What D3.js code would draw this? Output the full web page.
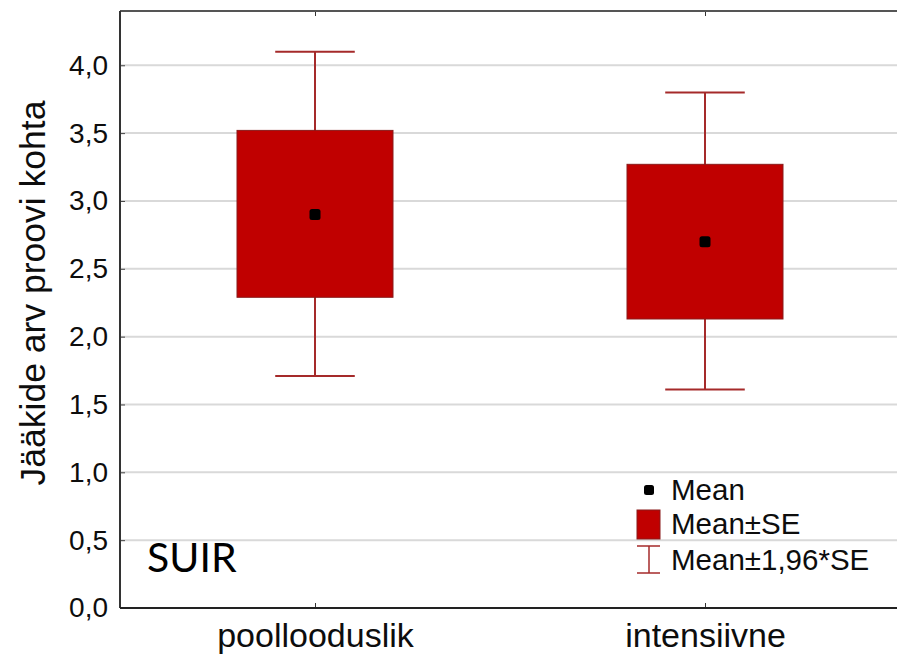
<!DOCTYPE html>
<html>
<head>
<meta charset="utf-8">
<script src="https://cdn.jsdelivr.net/npm/d3@7"></script>
<style>
  html, body { margin: 0; padding: 0; background: #fff; }
  svg { display: block; font-family: "Liberation Sans", Arial, sans-serif; }
</style>
</head>
<body>
<svg id="chart" width="897" height="655"></svg>
<script>
// Categories and per-group statistics
const categories = ["poollooduslik", "intensiivne"];
const means      = [2.90, 2.70];
const seLower    = [2.29, 2.13];
const seUpper    = [3.52, 3.27];
const ciLower    = [1.71, 1.61];
const ciUpper    = [4.10, 3.80];
const yTicks     = [0, 0.5, 1.0, 1.5, 2.0, 2.5, 3.0, 3.5, 4.0];
const legendLabels = ["Mean", "Mean±SE", "Mean±1,96*SE"];
const yTitle = "Jääkide arv proovi kohta";
const panelLabel = "SUIR";

const boxFill = "#c00000";
const boxStroke = "#8a1a1a";
const whiskerColor = "#a52a2a";
const textColor = "#0d0d0d";

const svg = d3.select("#chart");
const plotLeft = 120, plotRight = 900, plotTop = 11, plotBottom = 608;

const x = d3.scalePoint().domain(categories).range([plotLeft, plotRight]).padding(0.5);
const y = d3.scaleLinear().domain([0, 4.4]).range([plotBottom, plotTop]);
const step = x.step();
const boxW = step * 0.4;
const capW = boxW * 0.51;

// horizontal grid
svg.append("g")
  .selectAll("line")
  .data(yTicks.filter(d => d > 0))
  .join("line")
  .attr("x1", plotLeft).attr("x2", plotRight)
  .attr("y1", d => y(d)).attr("y2", d => y(d))
  .attr("stroke", "#d9d9d9").attr("stroke-width", 2);

const fmt = d => d3.format(".1f")(d).replace(".", ",");

// left axis with inward ticks
const yAxis = svg.append("g")
  .attr("transform", `translate(${plotLeft},0)`)
  .call(d3.axisLeft(y).tickValues(yTicks).tickFormat(fmt).tickSizeInner(-5).tickSizeOuter(0).tickPadding(12));
yAxis.select(".domain").remove();
yAxis.selectAll(".tick line").attr("stroke", "#444").attr("stroke-width", 1);
yAxis.selectAll(".tick text").attr("font-size", 28).attr("fill", textColor)
  .attr("font-family", "Liberation Sans, Arial, sans-serif");

// bottom axis
const xAxis = svg.append("g")
  .attr("transform", `translate(0,${plotBottom})`)
  .call(d3.axisBottom(x).tickSizeInner(-5).tickSizeOuter(0).tickPadding(15));
xAxis.select(".domain").remove();
xAxis.selectAll(".tick line").attr("stroke", "#333");
xAxis.selectAll(".tick text").attr("font-size", 34).attr("fill", textColor)
  .attr("font-family", "Liberation Sans, Arial, sans-serif");

// top axis ticks
const tAxis = svg.append("g")
  .attr("transform", `translate(0,${plotTop})`)
  .call(d3.axisTop(x).tickSizeInner(-5).tickSizeOuter(0).tickFormat(""));
tAxis.select(".domain").remove();
tAxis.selectAll(".tick line").attr("stroke", "#333");

// frame lines
svg.append("line").attr("x1", plotLeft).attr("x2", plotRight).attr("y1", plotTop).attr("y2", plotTop)
  .attr("stroke", "#555").attr("stroke-width", 2);
svg.append("line").attr("x1", plotLeft).attr("x2", plotLeft).attr("y1", plotTop).attr("y2", plotBottom)
  .attr("stroke", "#333").attr("stroke-width", 2);
svg.append("line").attr("x1", plotLeft).attr("x2", plotRight).attr("y1", plotBottom).attr("y2", plotBottom)
  .attr("stroke", "#222").attr("stroke-width", 2);

// groups
const groups = categories.map((c, i) => ({
  c, mean: means[i], lo: seLower[i], hi: seUpper[i], cl: ciLower[i], ch: ciUpper[i]
}));

const g = svg.append("g").selectAll("g").data(groups).join("g");

// whiskers
g.append("line")
  .attr("x1", d => x(d.c)).attr("x2", d => x(d.c))
  .attr("y1", d => y(d.ch)).attr("y2", d => y(d.cl))
  .attr("stroke", whiskerColor).attr("stroke-width", 2);
g.append("line")
  .attr("x1", d => x(d.c) - capW / 2).attr("x2", d => x(d.c) + capW / 2)
  .attr("y1", d => y(d.ch)).attr("y2", d => y(d.ch))
  .attr("stroke", whiskerColor).attr("stroke-width", 2);
g.append("line")
  .attr("x1", d => x(d.c) - capW / 2).attr("x2", d => x(d.c) + capW / 2)
  .attr("y1", d => y(d.cl)).attr("y2", d => y(d.cl))
  .attr("stroke", whiskerColor).attr("stroke-width", 2);

// SE boxes
g.append("rect")
  .attr("x", d => x(d.c) - boxW / 2)
  .attr("width", boxW)
  .attr("y", d => y(d.hi))
  .attr("height", d => y(d.lo) - y(d.hi))
  .attr("fill", boxFill).attr("stroke", boxStroke).attr("stroke-width", 1);

// means
g.append("rect")
  .attr("x", d => x(d.c) - 5.5).attr("y", d => y(d.mean) - 5.5)
  .attr("width", 11).attr("height", 11).attr("rx", 2.5)
  .attr("fill", "#000");

// y title
svg.append("text")
  .attr("transform", `translate(45,293) rotate(-90)`)
  .attr("text-anchor", "middle")
  .attr("font-size", 35.5).attr("fill", textColor)
  .text(yTitle);

// panel label
svg.append("text")
  .attr("x", 147).attr("y", 572)
  .attr("font-family", "Lato, 'Open Sans', sans-serif")
  .attr("font-size", 41).attr("fill", "#000")
  .text(panelLabel);

// legend
const lg = svg.append("g");
const lx = 649, ly = [490, 524, 560];
lg.append("rect").attr("x", lx - 5).attr("y", ly[0] - 5).attr("width", 10).attr("height", 10)
  .attr("rx", 2.5).attr("fill", "#000");
lg.append("rect").attr("x", lx - 12).attr("y", ly[1] - 14).attr("width", 23).attr("height", 29)
  .attr("fill", boxFill).attr("stroke", boxStroke).attr("stroke-width", 1);
lg.append("line").attr("x1", lx).attr("x2", lx).attr("y1", ly[2] - 14).attr("y2", ly[2] + 13)
  .attr("stroke", whiskerColor).attr("stroke-width", 1.5);
lg.append("line").attr("x1", lx - 12).attr("x2", lx + 11).attr("y1", ly[2] - 14).attr("y2", ly[2] - 14)
  .attr("stroke", whiskerColor).attr("stroke-width", 1.5);
lg.append("line").attr("x1", lx - 12).attr("x2", lx + 11).attr("y1", ly[2] + 13).attr("y2", ly[2] + 13)
  .attr("stroke", whiskerColor).attr("stroke-width", 1.5);
lg.selectAll("text.lbl").data(legendLabels).join("text")
  .attr("class", "lbl")
  .attr("x", 671).attr("y", (d, i) => ly[i] + 10)
  .attr("font-size", 29.5).attr("fill", textColor)
  .text(d => d);
</script>
</body>
</html>
